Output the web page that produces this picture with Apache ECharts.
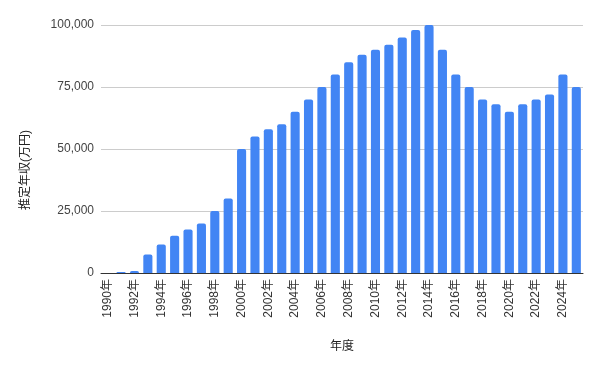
<!DOCTYPE html>
<html><head><meta charset="utf-8">
<script src="https://cdn.jsdelivr.net/npm/echarts@6/dist/echarts.min.js"></script>
<style>html,body{margin:0;padding:0;background:#fff}#c{width:601px;height:371px}</style>
</head><body><div id="c"></div>
<script>
const categories = ['1990年','1991年','1992年','1993年','1994年','1995年','1996年','1997年','1998年','1999年','2000年','2001年','2002年','2003年','2004年','2005年','2006年','2007年','2008年','2009年','2010年','2011年','2012年','2013年','2014年','2015年','2016年','2017年','2018年','2019年','2020年','2021年','2022年','2023年','2024年','2025年'];
const incomeValues = [0,400,800,7500,11500,15000,17500,20000,25000,30000,50000,55000,58000,60000,65000,70000,75000,80000,85000,88000,90000,92000,95000,98000,100000,90000,80000,75000,70000,68000,65000,68000,70000,72000,80000,75000];
const yTicks = [0,25000,50000,75000,100000];
const xAxisName = '年度';
const yAxisName = '推定年収(万円)';

const chart = echarts.init(document.getElementById('c'), null, {renderer:'canvas'});
const font = '"Liberation Sans", Arial, "Noto Sans CJK JP", sans-serif';
chart.setOption({
  animation:false,
  textStyle:{fontFamily:font},
  grid:{left:101,right:18,top:25,bottom:98,containLabel:false},
  graphic:[{
    type:'text', x:26, y:170, rotation:Math.PI/2,
    style:{text:yAxisName, fill:'#222', font:'12px ' + font, align:'center', verticalAlign:'middle'}
  }],
  xAxis:{
    type:'category', data:categories,
    name:xAxisName, nameLocation:'middle', nameGap:68,
    nameTextStyle:{color:'#222',fontSize:12,fontFamily:font},
    axisLine:{lineStyle:{color:'#333',width:1}},
    axisTick:{show:false},
    axisLabel:{rotate:90,interval:1,color:'#333',fontSize:12,fontFamily:font,margin:6},
  },
  yAxis:{
    type:'value', min:yTicks[0], max:yTicks[yTicks.length-1], interval:25000,
    axisLine:{show:false}, axisTick:{show:false},
    splitLine:{lineStyle:{color:'#cccccc',width:1}},
    axisLabel:{color:'#444',fontSize:12,fontFamily:font,margin:7,
      formatter:v=>v.toLocaleString('en-US')}
  },
  series:[{
    type:'bar', data:incomeValues, barCategoryGap:'32%',
    itemStyle:{color:'#4285f4',borderRadius:[2,2,0,0]}
  }]
});
</script></body></html>
